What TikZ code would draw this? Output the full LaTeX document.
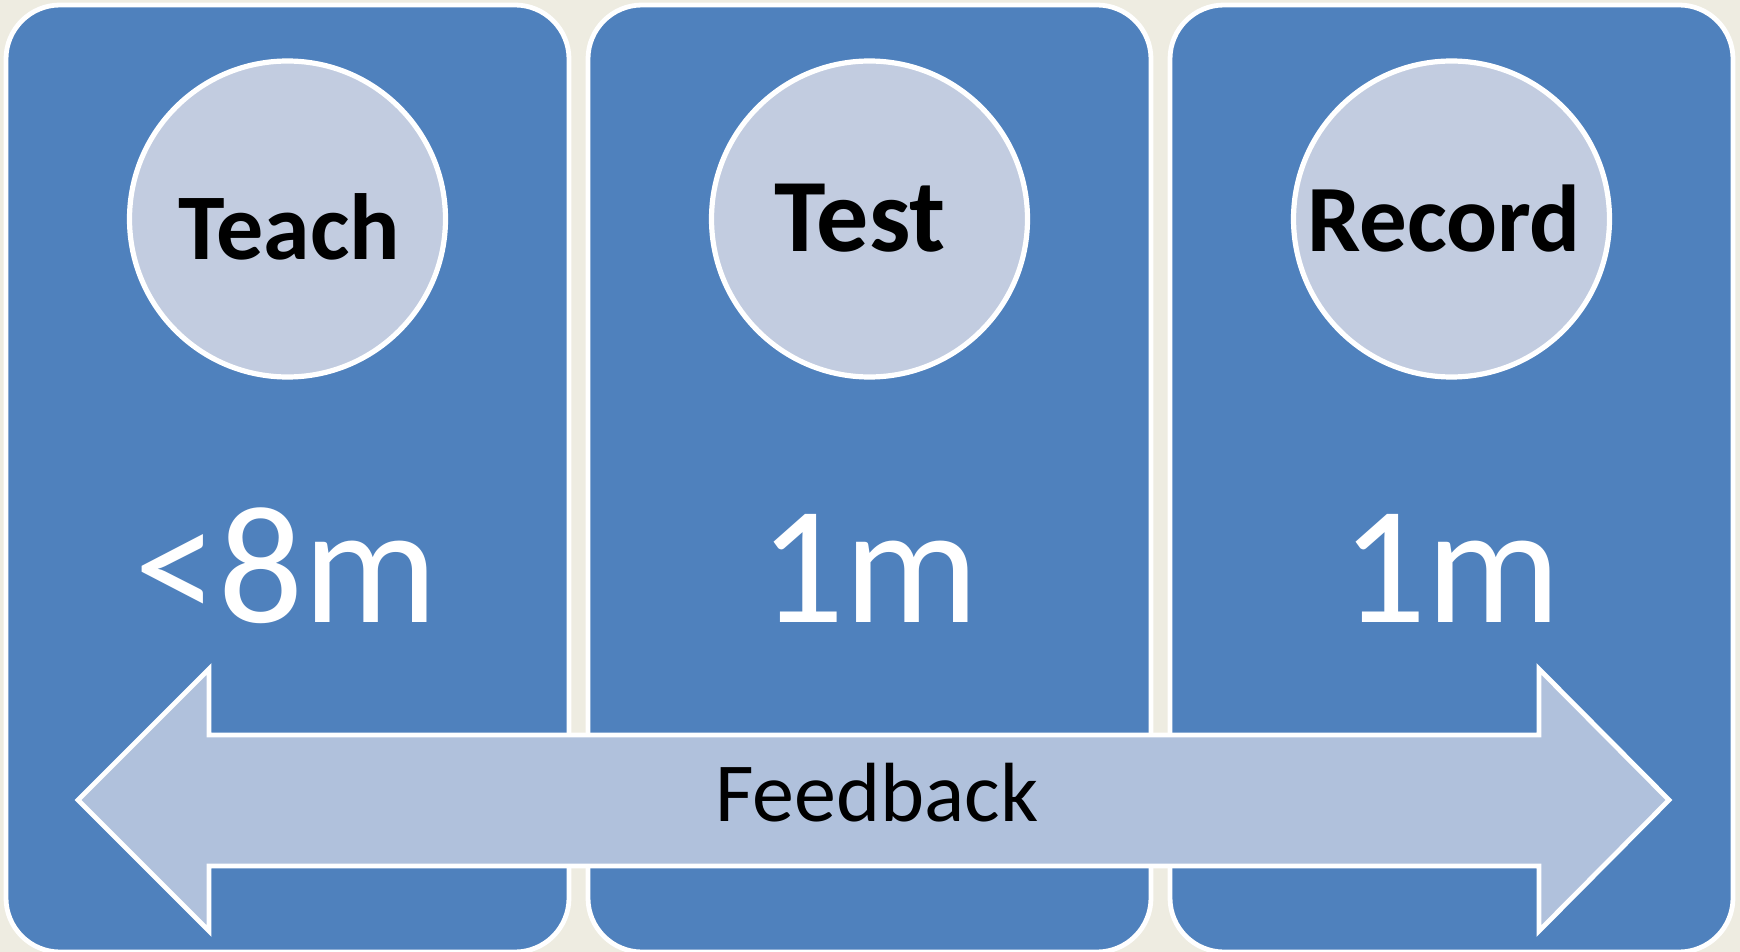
\documentclass[tikz,border=0pt]{standalone}
\usepackage{fontspec}
\setmainfont{Carlito}
\usetikzlibrary{positioning}
\definecolor{paper}{HTML}{EEECE1}
\definecolor{panelblue}{HTML}{4F81BD}
\definecolor{stepfill}{HTML}{C2CCE0}
\definecolor{arrowfill}{HTML}{B0C1DC}

\begin{document}
\begin{tikzpicture}[x=0.5pt,y=-0.5pt,
    panel/.style={rectangle,draw=white,line width=2.4pt,fill=panelblue,
        rounded corners=27pt,minimum width=281.5pt,minimum height=473.5pt,inner sep=0pt},
    stepcircle/.style={circle,draw=white,line width=2.6pt,fill=stepfill,
        minimum size=158pt,inner sep=0pt},
    steptext/.style={anchor=base,font=\bfseries},
    timetext/.style={anchor=base,text=white,font=\fontsize{84}{88}\selectfont},
    feedbackarrow/.style={draw=white,line width=2.4pt,fill=arrowfill}]
        % background and page size
        \fill[paper] (0,0) rectangle (1740,952);
        \useasboundingbox (0,0) rectangle (1740,952);
        % three panels with their circles
        \foreach \x/\name in {287.5/teach,869.5/test,1451.5/record}
        {
            \node[panel] (\name panel) at (\x,478.5) {};
            \node[stepcircle] (\name circle) at (\x,219) {};
        }
        \node[steptext,font=\bfseries\fontsize{47}{50}\selectfont] (teachlabel) at (289,260) {Teach};
        \node[steptext,font=\bfseries\fontsize{52}{56}\selectfont] (testlabel) at (860,252) {Test};
        \node[steptext,font=\bfseries\fontsize{47.5}{50}\selectfont] (recordlabel) at (1444,252) {Record};
        % times
        \node[timetext] (teachtime) at (286,622.5) {<8m};
        \node[timetext] (testtime) at (869,622.5) {1m};
        \node[timetext] (recordtime) at (1451,622.5) {1m};
        % feedback arrow
        \draw[feedbackarrow] (78,800) -- (209,669) -- (209,735) -- (1539,735)
            -- (1539,669) -- (1669,800) -- (1539,931) -- (1539,866)
            -- (209,866) -- (209,931) -- cycle;
        \node[anchor=base,font=\fontsize{42}{44}\selectfont] (feedback) at (877,821) {Feedback};
\end{tikzpicture}
\end{document}
